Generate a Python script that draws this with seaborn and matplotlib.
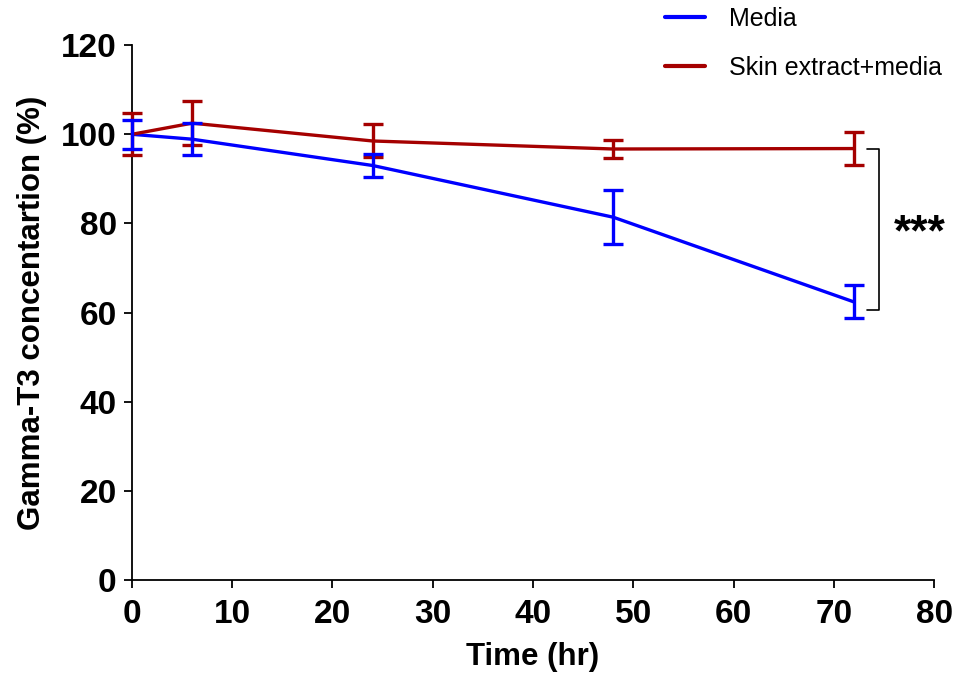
import matplotlib
matplotlib.use("Agg")
import matplotlib.pyplot as plt
import pandas as pd
import seaborn as sns

# %%
time_hr = [0, 6, 24, 48, 72]
media_mean = [100.0, 98.9, 93.0, 81.4, 62.4]
media_sd = [3.3, 3.6, 2.5, 6.0, 3.7]
skin_mean = [100.0, 102.5, 98.5, 96.7, 96.8]
skin_sd = [4.7, 4.9, 3.7, 2.0, 3.7]

series_names = ["Media", "Skin extract+media"]
series_colors = ["#0000FF", "#A50000"]

df = pd.concat(
    [
        pd.DataFrame({"time": time_hr, "conc": media_mean, "sd": media_sd, "group": series_names[0]}),
        pd.DataFrame({"time": time_hr, "conc": skin_mean, "sd": skin_sd, "group": series_names[1]}),
    ]
)

# %%
sns.set_style("ticks")
plt.rcParams["font.family"] = ["Liberation Sans", "DejaVu Sans"]
plt.rcParams["text.color"] = "black"
plt.rcParams["axes.labelcolor"] = "black"
plt.rcParams["xtick.color"] = "black"
plt.rcParams["ytick.color"] = "black"
plt.rcParams["axes.edgecolor"] = "black"

fig = plt.figure(figsize=(9.59, 6.84), dpi=100)
ax = fig.add_axes([0.1376, 0.152, 0.8364, 0.782])

palette = dict(zip(series_names, series_colors))
sns.lineplot(
    data=df,
    x="time",
    y="conc",
    hue="group",
    hue_order=series_names,
    palette=palette,
    linewidth=2.4,
    ax=ax,
    legend=False,
)
# error bars, skin first so media bars sit on top
for name in series_names[::-1]:
    sub = df[df["group"] == name]
    ax.errorbar(
        sub["time"],
        sub["conc"],
        yerr=sub["sd"],
        fmt="none",
        ecolor=palette[name],
        elinewidth=2.4,
        capsize=7.5,
        capthick=2.4,
        clip_on=False,
        zorder=3,
    )

ax.set_xlim(0, 80)
ax.set_ylim(0, 120)
ax.set_xticks(range(0, 81, 10))
ax.set_yticks(range(0, 121, 20))
ax.tick_params(axis="both", direction="out", length=6, width=1.3, labelsize=24)
ax.tick_params(axis="x", pad=8)
ax.tick_params(axis="y", pad=5)
for lab in ax.get_xticklabels() + ax.get_yticklabels():
    lab.set_fontweight("bold")
ax.set_xlabel("Time (hr)", fontsize=22.5, fontweight="bold", labelpad=8)
ax.set_ylabel("Gamma-T3 concentartion (%)", fontsize=22.5, fontweight="bold", labelpad=10)
for s in ["left", "bottom"]:
    ax.spines[s].set_linewidth(1.3)
sns.despine(ax=ax)

# significance bracket
ax.plot([73.3, 74.5, 74.5, 73.3], [96.7, 96.7, 60.6, 60.6], color="black", lw=1.2, clip_on=False)
ax.text(78.6, 77.7, "***", fontsize=32, fontweight="bold", ha="center", va="center", clip_on=False)

handles = [plt.Line2D([], [], color=c, lw=3) for c in series_colors]
fig.legend(
    handles,
    series_names,
    loc="upper left",
    bbox_to_anchor=(665 / 959, 1 - 7 / 684),
    frameon=False,
    fontsize=18,
    labelspacing=1.0,
    handlelength=1.6,
    handletextpad=0.95,
    borderpad=0,
    borderaxespad=0,
)

plt.savefig("out.png", dpi=100)
